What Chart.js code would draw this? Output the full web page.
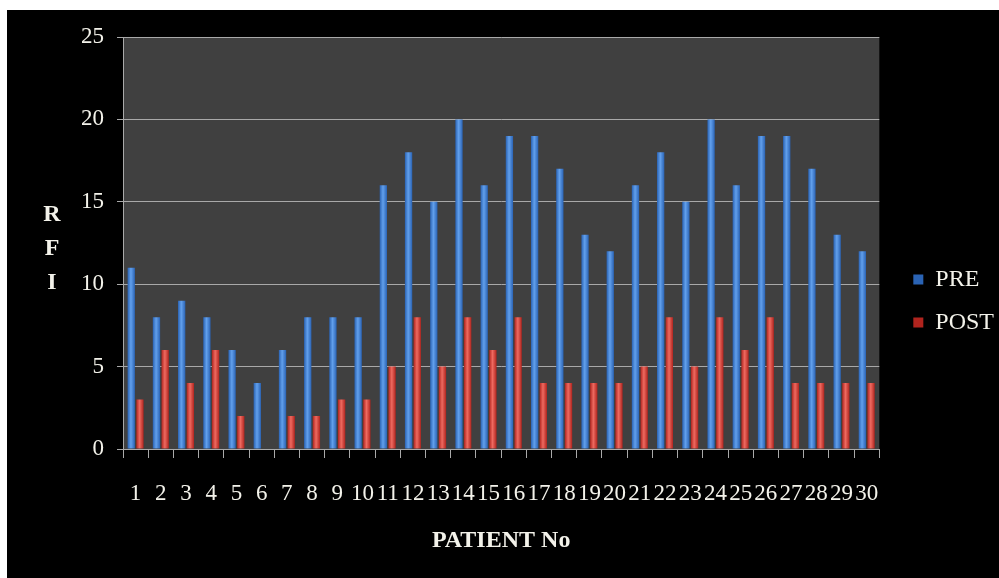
<!DOCTYPE html>
<html>
<head>
<meta charset="utf-8">
<script src="https://cdn.jsdelivr.net/npm/chart.js@4"></script>
<style>
  html, body { margin: 0; padding: 0; background: #fff; width: 999px; height: 578px; overflow: hidden; }
  #frame { position: absolute; left: 7px; top: 10px; width: 992px; height: 568px; background: #000; }
  canvas { display: block; }
</style>
</head>
<body>
<div id="frame"><canvas id="rfi" width="992" height="568"></canvas></div>
<script>
// Patient numbers along the x axis
const patients = ['1','2','3','4','5','6','7','8','9','10','11','12','13','14','15',
                  '16','17','18','19','20','21','22','23','24','25','26','27','28','29','30'];
// RFI before and after treatment
const preValues  = [11, 8, 9, 8, 6, 4, 6, 8, 8, 8, 16, 18, 15, 20, 16, 19, 19, 17, 13, 12,
                    16, 18, 15, 20, 16, 19, 19, 17, 13, 12];
const postValues = [3, 6, 4, 6, 2, 0, 2, 2, 3, 3, 5, 8, 5, 8, 6, 8, 4, 4, 4, 4,
                    5, 8, 5, 8, 6, 8, 4, 4, 4, 4];
const seriesNames = ['PRE', 'POST'];
const yTicks = [0, 5, 10, 15, 20, 25];
const yTitleLetters = ['R', 'F', 'I'];
const xTitle = 'PATIENT No';

const SERIF = "'Liberation Serif', 'Times New Roman', serif";
const TEXT = '#f3f2ea';
const GRID = '#a9a9a9';
const CATEGORY_PCT = 0.69;
const BAR_PCT = 0.84;

// Horizontal shading so each bar reads as a rounded column
function columnFill(dark, mid, light) {
  return (ctx) => {
    if (ctx.type !== 'data') return mid;
    const chart = ctx.chart;
    const x = chart.scales && chart.scales.x;
    if (!x || !x.width) return mid;
    const cat = x.width / patients.length;
    const slot = cat * CATEGORY_PCT / 2;
    const center = x.getPixelForValue(ctx.dataIndex) + (ctx.datasetIndex === 0 ? -slot / 2 : slot / 2);
    const half = slot * BAR_PCT / 2;
    const g = chart.ctx.createLinearGradient(center - half, 0, center + half, 0);
    g.addColorStop(0, dark);
    g.addColorStop(0.45, light);
    g.addColorStop(1, dark);
    return g;
  };
}

const plotBackground = {
  id: 'plotBackground',
  beforeDraw(chart) {
    const { ctx, chartArea: a } = chart;
    ctx.save();
    ctx.fillStyle = '#404040';
    ctx.fillRect(a.left, a.top, a.right - a.left, a.bottom - a.top);
    ctx.restore();
  }
};

// Stacked, upright letters for the value-axis title
const stackedYTitle = {
  id: 'stackedYTitle',
  afterDraw(chart) {
    const { ctx } = chart;
    ctx.save();
    ctx.fillStyle = TEXT;
    ctx.font = "bold 24px " + SERIF;
    ctx.textAlign = 'center';
    ctx.textBaseline = 'middle';
    yTitleLetters.forEach((ch, i) => ctx.fillText(ch, 45, 205 + i * 34));
    ctx.restore();
  }
};

new Chart(document.getElementById('rfi'), {
  type: 'bar',
  data: {
    labels: patients,
    datasets: [
      { label: seriesNames[0], data: preValues,
        backgroundColor: columnFill('#2a63b4', '#3a7dd2', '#62a0ec'), borderWidth: 0 },
      { label: seriesNames[1], data: postValues,
        backgroundColor: columnFill('#b0241e', '#d63a31', '#ee6a60'), borderWidth: 0 }
    ]
  },
  options: {
    responsive: false,
    animation: false,
    devicePixelRatio: 1,
    categoryPercentage: CATEGORY_PCT,
    barPercentage: BAR_PCT,
    layout: { padding: { top: 27, left: 0, right: -5, bottom: 13 } },
    plugins: {
      legend: {
        position: 'right',
        labels: {
          color: TEXT,
          font: { family: SERIF, size: 24 },
          boxWidth: 10,
          boxHeight: 10,
          padding: 19
        }
      },
      tooltip: { enabled: false }
    },
    scales: {
      x: {
        grid: { display: true, drawOnChartArea: false, color: GRID, tickLength: 9, offset: true },
        border: { color: GRID },
        ticks: { color: TEXT, font: { family: SERIF, size: 23 }, autoSkip: false, maxRotation: 0, minRotation: 0, padding: 22 },
        title: { display: true, text: xTitle, color: TEXT, font: { family: SERIF, size: 24, weight: 'bold' }, padding: { top: 0, bottom: 10 } },
        afterFit(s) { s.height = 116; }
      },
      y: {
        min: yTicks[0],
        max: yTicks[yTicks.length - 1],
        afterBuildTicks(s) { s.ticks = yTicks.map(v => ({ value: v })); },
        grid: { color: GRID, tickLength: 6 },
        border: { color: GRID },
        ticks: { color: TEXT, font: { family: SERIF, size: 23 }, padding: 13 },
        afterFit(s) { s.width = 116; }
      },
      gap: {
        position: 'right',
        display: true,
        grid: { display: false },
        border: { display: false },
        ticks: { display: false },
        afterFit(s) { s.width = 15; }
      }
    }
  },
  plugins: [plotBackground, stackedYTitle]
});
</script>
</body>
</html>
